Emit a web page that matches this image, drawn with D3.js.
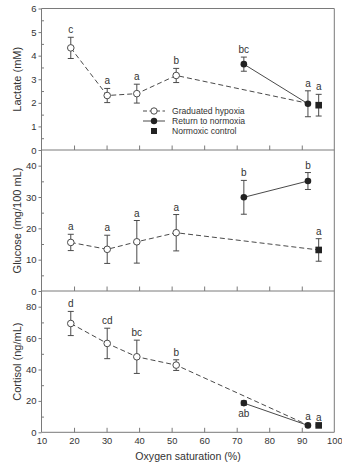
<!DOCTYPE html>
<html><head><meta charset="utf-8">
<script src="https://cdn.jsdelivr.net/npm/d3@7"></script>
<style>body{margin:0;background:#fff}svg{display:block}text{font-family:"Liberation Sans",Arial,sans-serif;fill:#333}</style>
</head><body><svg id="c" width="342" height="465"></svg>
<script>
// ---- data ----
const xTicks = [10,20,30,40,50,60,70,80,90,100];
const hypoxiaX = [19, 30.2, 39.3, 51.4, 91.9];
const hypoxiaXGlucose = [19, 30.2, 39.3, 51.4, 95.2];
const normoxiaX = [72.2, 91.9];
const controlX = [95.2];

const lactateHyp = [4.33, 2.31, 2.39, 3.16, 1.98];
const lactateHypErr = [0.45, 0.3, 0.4, 0.3, 0];
const lactateHypLet = ["c","a","a","b",""];
const lactateNorm = [3.64, 1.96];
const lactateNormErr = [0.3, 0.55];
const lactateNormLet = ["bc","a"];
const lactateCtrl = [1.9];
const lactateCtrlErr = [0.46];
const lactateCtrlLet = ["a"];

const glucoseHyp = [15.5, 13.3, 15.7, 18.6, 13.1];
const glucoseHypErr = [2.6, 4.5, 6.8, 5.8, 0];
const glucoseHypLet = ["a","a","a","a",""];
const glucoseNorm = [29.9, 35.1];
const glucoseNormErr = [5.4, 2.7];
const glucoseNormLet = ["b","b"];
const glucoseCtrl = [13.1];
const glucoseCtrlErr = [3.6];
const glucoseCtrlLet = ["a"];

const cortisolHyp = [69.3, 56.6, 48.1, 42.8, 4.6];
const cortisolHypErr = [7.7, 9.7, 10.6, 3.4, 0];
const cortisolHypLet = ["d","cd","bc","b",""];
const cortisolNorm = [18.6, 4.4];
const cortisolNormErr = [1.4, 0.6];
const cortisolNormLet = ["ab","a"];
const cortisolCtrl = [4.4];
const cortisolCtrlErr = [0.5];
const cortisolCtrlLet = ["a"];

const panels = [
  {title:"Lactate (mM)", domain:[0,6], ticks:[0,1,2,3,4,5,6], minor:[0.5,1.5,2.5,3.5,4.5,5.5], top:8.5, bottom:150,
   hx:hypoxiaX, h:lactateHyp, he:lactateHypErr, hl:lactateHypLet, n:lactateNorm, ne:lactateNormErr, nl:lactateNormLet,
   c:lactateCtrl, ce:lactateCtrlErr, cl:lactateCtrlLet, belowNorm:[]},
  {title:"Glucose (mg/100 mL)", domain:[0,45], ticks:[0,10,20,30,40], minor:[5,15,25,35], top:150, bottom:291,
   hx:hypoxiaXGlucose, h:glucoseHyp, he:glucoseHypErr, hl:glucoseHypLet, n:glucoseNorm, ne:glucoseNormErr, nl:glucoseNormLet,
   c:glucoseCtrl, ce:glucoseCtrlErr, cl:glucoseCtrlLet, belowNorm:[]},
  {title:"Cortisol (ng/mL)", domain:[0,90], ticks:[0,20,40,60,80], minor:[10,30,50,70], top:291, bottom:432.3,
   hx:hypoxiaX, h:cortisolHyp, he:cortisolHypErr, hl:cortisolHypLet, n:cortisolNorm, ne:cortisolNormErr, nl:cortisolNormLet,
   c:cortisolCtrl, ce:cortisolCtrlErr, cl:cortisolCtrlLet, belowNorm:[0]}
];

const svg = d3.select("#c");
const L = 41.5, R = 334.3;
const x = d3.scaleLinear().domain([10,100]).range([L,R]);
const axisCol = "#7a7a7a", lineCol = "#4a4a4a";
const FONT = "Liberation Sans, Arial, sans-serif";

panels.forEach((p,pi)=>{
  const y = d3.scaleLinear().domain(p.domain).range([p.bottom,p.top]);
  const g = svg.append("g");
  // frame
  g.append("line").attr("x1",L).attr("x2",L).attr("y1",p.top).attr("y2",p.bottom).attr("stroke",axisCol);
  g.append("line").attr("x1",R).attr("x2",R).attr("y1",p.top).attr("y2",p.bottom).attr("stroke",axisCol);
  g.append("line").attr("x1",L).attr("x2",R).attr("y1",p.bottom).attr("y2",p.bottom).attr("stroke",axisCol);
  if(pi===0) g.append("line").attr("x1",L).attr("x2",R).attr("y1",p.top).attr("y2",p.top).attr("stroke",axisCol);
  // y axis major ticks (outward) + labels
  const yAxis = d3.axisLeft(y).tickValues(p.ticks).tickSize(3).tickPadding(2).tickFormat(d3.format("d"));
  const ya = g.append("g").attr("transform",`translate(${L},0)`).call(yAxis);
  ya.select(".domain").remove();
  ya.selectAll("line").attr("stroke",axisCol);
  ya.selectAll("text").attr("font-size",9.5).attr("fill","#444").style("font-family",FONT);
  // minor ticks (inward)
  const ym = d3.axisRight(y).tickValues(p.minor).tickSize(2.5).tickFormat("");
  const ymg = g.append("g").attr("transform",`translate(${L},0)`).call(ym);
  ymg.select(".domain").remove();
  ymg.selectAll("line").attr("stroke",axisCol);
  // x ticks inward
  const xa = d3.axisTop(x).tickValues(xTicks.slice(1,9)).tickSize(4.5).tickFormat("");
  const xag = g.append("g").attr("transform",`translate(0,${p.bottom})`).call(xa);
  xag.select(".domain").remove();
  xag.selectAll("line").attr("stroke",axisCol);
  // title
  g.append("text").attr("transform",`translate(21,${(p.top+p.bottom)/2}) rotate(-90)`)
    .attr("text-anchor","middle").attr("font-size",11).attr("fill","#444").text(p.title);

  const hx = p.hx;
  // hypoxia dashed line
  g.append("path").datum(p.h.map((v,i)=>[hx[i],v]))
    .attr("d",d3.line().x(d=>x(d[0])).y(d=>y(d[1])))
    .attr("fill","none").attr("stroke",lineCol).attr("stroke-width",1).attr("stroke-dasharray","5,3");
  // normoxia solid line
  g.append("path").datum(p.n.map((v,i)=>[normoxiaX[i],v]))
    .attr("d",d3.line().x(d=>x(d[0])).y(d=>y(d[1])))
    .attr("fill","none").attr("stroke",lineCol).attr("stroke-width",1);

  function errbars(xs, vs, es){
    vs.forEach((v,i)=>{
      if(!es[i]) return;
      const cx = x(xs[i]);
      g.append("line").attr("x1",cx).attr("x2",cx).attr("y1",y(v+es[i])).attr("y2",y(v-es[i])).attr("stroke",lineCol);
      [v+es[i], v-es[i]].forEach(w=>g.append("line").attr("x1",cx-3).attr("x2",cx+3).attr("y1",y(w)).attr("y2",y(w)).attr("stroke",lineCol));
    });
  }
  function letters(xs, vs, es, ls, below){
    vs.forEach((v,i)=>{
      if(!ls[i]) return;
      const isBelow = below && below.includes(i);
      const yy = isBelow ? y(v - es[i]) + 12 : y(v + es[i]) - 4;
      g.append("text").attr("x",x(xs[i])).attr("y",yy).attr("text-anchor","middle")
        .attr("font-size",10).attr("fill","#444").text(ls[i]);
    });
  }
  errbars(hx.slice(0,4), p.h.slice(0,4), p.he.slice(0,4));
  errbars(normoxiaX, p.n, p.ne);
  errbars(controlX, p.c, p.ce);
  // markers
  p.h.slice(0,4).forEach((v,i)=>g.append("circle").attr("cx",x(hx[i])).attr("cy",y(v)).attr("r",3.3)
    .attr("fill","#fff").attr("stroke",lineCol).attr("stroke-width",1));
  p.n.forEach((v,i)=>g.append("circle").attr("cx",x(normoxiaX[i])).attr("cy",y(v)).attr("r",3.3).attr("fill","#222"));
  p.c.forEach((v,i)=>g.append("rect").attr("x",x(controlX[i])-3.3).attr("y",y(v)-3.3).attr("width",6.6).attr("height",6.6).attr("fill","#222"));
  letters(hx, p.h, p.he, p.hl, []);
  letters(normoxiaX, p.n, p.ne, p.nl, p.belowNorm);
  letters(controlX, p.c, p.ce, p.cl, []);
});

// x axis labels
const xl = d3.axisBottom(x).tickValues(xTicks).tickSize(0).tickPadding(5);
const xlg = svg.append("g").attr("transform",`translate(0,432.3)`).call(xl);
xlg.select(".domain").remove();
xlg.selectAll("text").attr("font-size",9.3).attr("fill","#444").style("font-family",FONT);
svg.append("text").attr("x",188).attr("y",460).attr("text-anchor","middle").attr("font-size",10.6).attr("fill","#444").text("Oxygen saturation (%)");

// legend
const legend = ["Graduated hypoxia","Return to normoxia","Normoxic control"];
const lg = svg.append("g");
legend.forEach((t,i)=>{
  const yy = 111 + i*10;
  if(i===0){
    lg.append("line").attr("x1",143).attr("x2",165).attr("y1",yy).attr("y2",yy).attr("stroke",lineCol).attr("stroke-dasharray","4,2.5");
    lg.append("circle").attr("cx",154).attr("cy",yy).attr("r",3.2).attr("fill","#fff").attr("stroke",lineCol);
  } else if(i===1){
    lg.append("line").attr("x1",143).attr("x2",165).attr("y1",yy).attr("y2",yy).attr("stroke",lineCol);
    lg.append("circle").attr("cx",154).attr("cy",yy).attr("r",3.2).attr("fill","#222");
  } else {
    lg.append("rect").attr("x",151).attr("y",yy-3).attr("width",6).attr("height",6).attr("fill","#222");
  }
  lg.append("text").attr("x",172).attr("y",yy+3.2).attr("font-size",8.6).attr("fill","#444").text(t);
});
</script></body></html>
